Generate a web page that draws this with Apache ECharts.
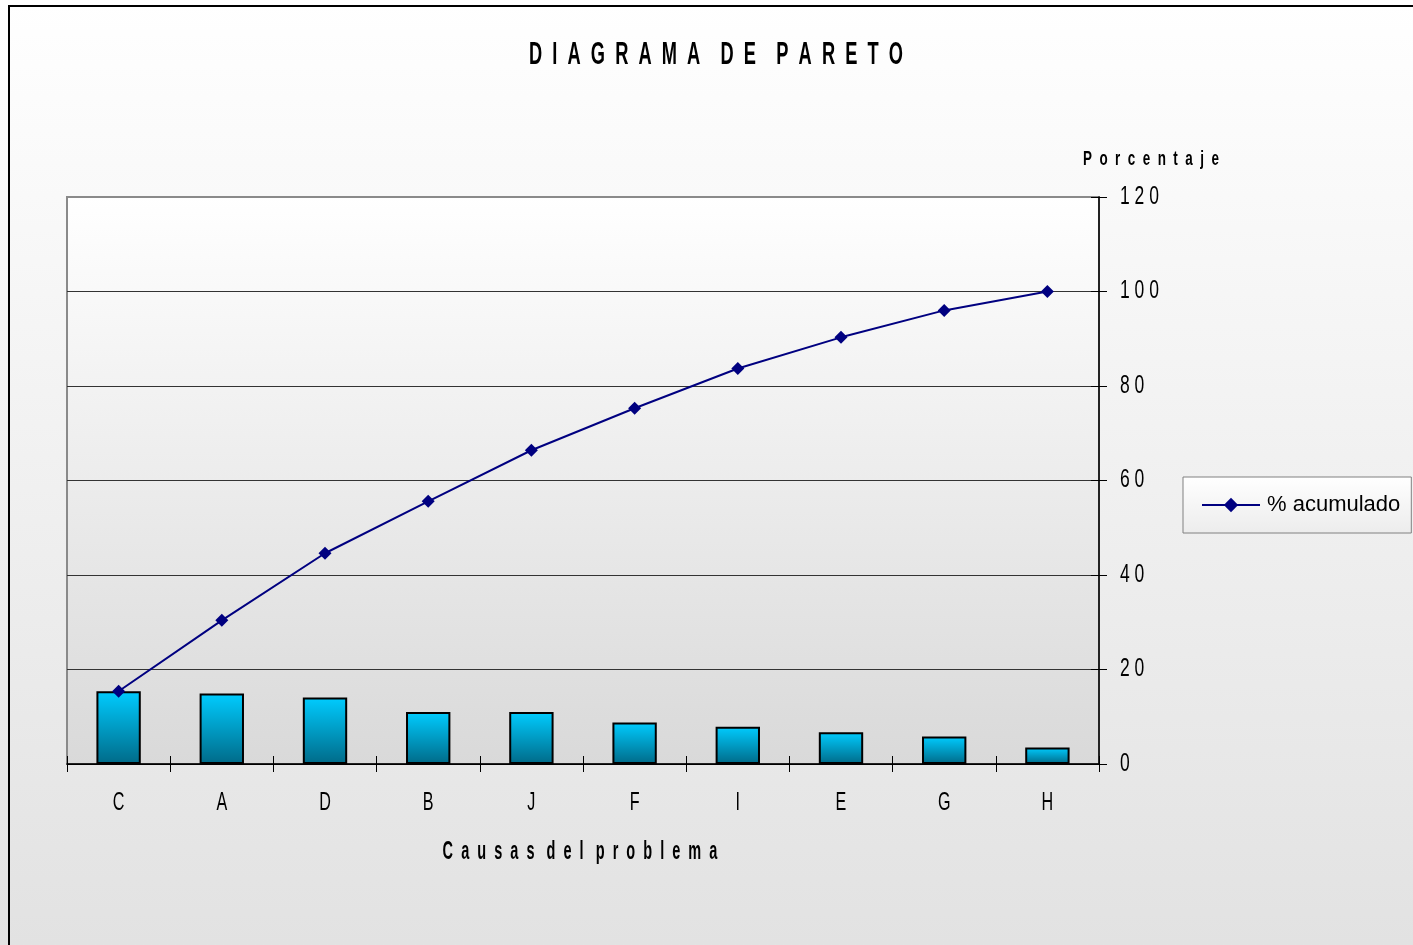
<!DOCTYPE html>
<html>
<head>
<meta charset="utf-8">
<script src="https://cdn.jsdelivr.net/npm/echarts@6/dist/echarts.min.js"></script>
<style>
  html, body { margin: 0; padding: 0; background: #ffffff; }
  #chart { width: 1413px; height: 945px; }
</style>
</head>
<body>
<div id="chart"></div>
<script>
// Causes of the problem, ordered from largest to smallest share
const categories = ['C', 'A', 'D', 'B', 'J', 'F', 'I', 'E', 'G', 'H'];
// Percentage of each cause
const percentages = [15.4, 14.9, 14.1, 11.0, 11.0, 8.8, 7.9, 6.7, 5.8, 3.5];
// Cumulative percentage
const cumulative = [15.4, 30.4, 44.6, 55.6, 66.4, 75.3, 83.7, 90.3, 96.0, 100];
// Right axis ticks
const yTickValues = [0, 20, 40, 60, 80, 100, 120];

const titleText = 'DIAGRAMA DE PARETO';
const xAxisTitle = 'Causas del problema';
const yAxisTitle = 'Porcentaje';
const lineName = '% acumulado';

const FONT = '"Liberation Sans", Arial, sans-serif';

// Letter-spaced text: `gap` spaces between letters, `wordGap` between words
function spaced(str, gap, wordGap) {
  return str.split(' ')
    .map(w => w.split('').join(' '.repeat(gap)))
    .join(' '.repeat(wordGap));
}

// Condensed text element: horizontally squeezed around its anchor point
function condensed(text, x, y, size, weight, sx, align) {
  return {
    type: 'text', x: x, y: y, scaleX: sx, scaleY: 1, z: 50, silent: true,
    style: {
      text: text, x: 0, y: 0,
      font: weight + ' ' + size + 'px ' + FONT,
      fill: '#000',
      textAlign: align, align: align,
      textVerticalAlign: 'middle', verticalAlign: 'middle'
    }
  };
}

const chart = echarts.init(document.getElementById('chart'), null, { renderer: 'canvas' });

const gridLeft = 67, gridRight = 1099, gridTop = 197, gridBottom = 764;

const ticksAxis = (inside) => ({
  show: true, inside: inside, length: 8, lineStyle: { color: '#000', width: 1 }
});

chart.setOption({
  animation: false,
  backgroundColor: {
    type: 'linear', x: 0, y: 0, x2: 0, y2: 1,
    colorStops: [{ offset: 0, color: '#ffffff' }, { offset: 1, color: '#e2e2e2' }]
  },
  legend: {
    left: 1183, top: 477,
    padding: [17, 11, 17, 18],
    backgroundColor: {
      type: 'linear', x: 0, y: 0, x2: 0, y2: 1,
      colorStops: [{ offset: 0, color: '#ffffff' }, { offset: 1, color: '#ececec' }]
    },
    borderColor: '#808080', borderWidth: 1,
    itemWidth: 58, itemHeight: 18, itemGap: 6,
    textStyle: { fontFamily: FONT, fontSize: 22, color: '#000', padding: [0, 0, 0, 2] },
    data: [lineName]
  },
  grid: {
    left: gridLeft, top: gridTop, width: gridRight - gridLeft, height: gridBottom - gridTop,
    show: true,
    backgroundColor: {
      type: 'linear', x: 0, y: 0, x2: 0, y2: 1,
      colorStops: [{ offset: 0, color: '#ffffff' }, { offset: 1, color: '#d9d9d9' }]
    },
    borderColor: '#8a8a8a', borderWidth: 2
  },
  xAxis: [
    {
      type: 'category', data: categories, position: 'bottom',
      axisLine: { show: true, lineStyle: { color: '#000', width: 1.5 } },
      axisTick: ticksAxis(false),
      axisLabel: { show: false },
      splitLine: { show: false }
    },
    {
      type: 'category', data: categories, position: 'bottom',
      axisLine: { show: false },
      axisTick: ticksAxis(true),
      axisLabel: { show: false },
      splitLine: { show: false }
    }
  ],
  yAxis: [
    {
      type: 'value', position: 'right',
      min: 0, max: 120, interval: 20,
      axisLine: { show: true, lineStyle: { color: '#000', width: 1.5 } },
      axisTick: ticksAxis(false),
      axisLabel: { show: false },
      splitLine: {
        show: true,
        lineStyle: { color: ['#000', '#333', '#333', '#333', '#333', '#333', '#8a8a8a'], width: 1 }
      }
    },
    {
      type: 'value', position: 'right',
      min: 0, max: 120, interval: 20,
      axisLine: { show: false },
      axisTick: ticksAxis(true),
      axisLabel: { show: false },
      splitLine: { show: false }
    }
  ],
  series: [
    {
      name: 'Porcentaje', type: 'bar', data: percentages,
      xAxisIndex: 0, yAxisIndex: 0,
      barCategoryGap: '57%',
      itemStyle: {
        color: {
          type: 'linear', x: 0, y: 0, x2: 0, y2: 1,
          colorStops: [{ offset: 0, color: '#00ccff' }, { offset: 1, color: '#006a88' }]
        },
        borderColor: '#000', borderWidth: 2
      },
      z: 2
    },
    {
      name: lineName, type: 'line', data: cumulative,
      xAxisIndex: 0, yAxisIndex: 0,
      symbol: 'diamond', symbolSize: 13,
      color: '#000080',
      itemStyle: { color: '#000080' },
      lineStyle: { color: '#000080', width: 2 },
      z: 3
    }
  ]
});

// Texts in a tall, condensed face, placed with the chart's own scales
const texts = [];
texts.push(condensed(spaced(titleText, 2, 4), 716, 55, 32, 'bold', 0.57, 'center'));
texts.push(condensed(spaced(yAxisTitle, 2, 2), 1083, 159, 21, 'bold', 0.64, 'left'));
texts.push(condensed(spaced(xAxisTitle, 2, 3), (gridLeft + gridRight) / 2 - 3, 852, 25, 'bold', 0.58, 'center'));

categories.forEach(c => {
  const px = chart.convertToPixel({ xAxisIndex: 0 }, c);
  texts.push(condensed(c, px, 803, 26, 'normal', 0.62, 'center'));
});
yTickValues.forEach(v => {
  const py = chart.convertToPixel({ yAxisIndex: 0 }, v);
  texts.push(condensed(spaced(String(v), 1, 1), 1120, py, 25, 'normal', 0.7, 'left'));
});

chart.setOption({
  graphic: [
    {
      type: 'rect', silent: true, z: 100,
      shape: { x: 9, y: 6, width: 1420, height: 960 },
      style: { fill: 'none', stroke: '#000', lineWidth: 2 }
    }
  ].concat(texts)
});
</script>
</body>
</html>
